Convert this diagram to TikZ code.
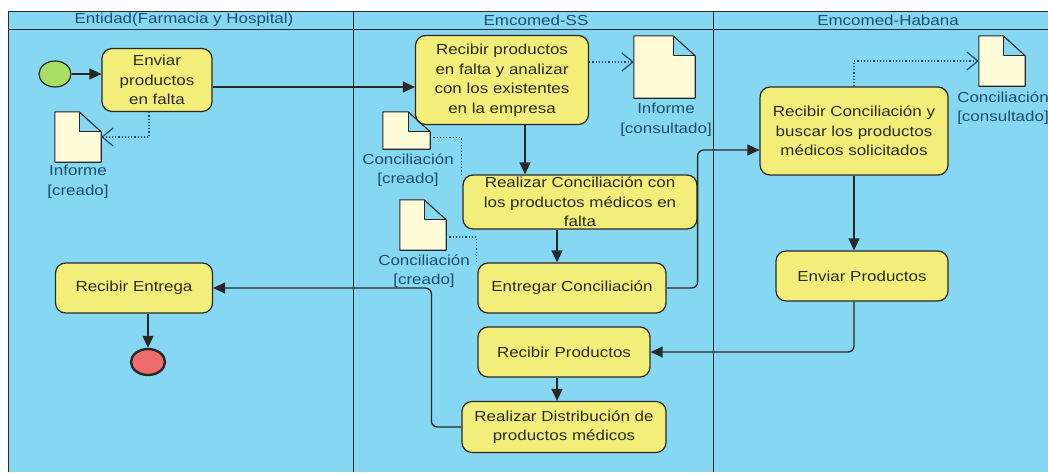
\documentclass[tikz,border=0pt]{standalone}
\usepackage{fontspec}
\setmainfont{Liberation Sans}[FakeStretch=1.17]
\usetikzlibrary{arrows.meta,shapes.geometric}

\definecolor{lane}{RGB}{134,216,242}
\definecolor{actfill}{RGB}{243,238,122}
\definecolor{paper}{RGB}{255,251,216}
\definecolor{linec}{RGB}{40,40,40}
\definecolor{textc}{RGB}{45,45,35}
\definecolor{labelc}{RGB}{30,78,110}
\definecolor{startc}{RGB}{168,222,100}
\definecolor{endc}{RGB}{238,108,110}

\newcommand{\docsheet}[1]{%
    \fill[paper] (#1.north west) -- ([xshift=-22pt]#1.north east) -- ([xshift=-22pt,yshift=-20pt]#1.north east)
        -- ([yshift=-20pt]#1.north east) -- (#1.south east) -- (#1.south west) -- cycle;
    \draw[docline] (#1.north west) -- ([xshift=-22pt]#1.north east) -- ([yshift=-20pt]#1.north east)
        -- (#1.south east) -- (#1.south west) -- cycle;
    \draw[docline] ([xshift=-22pt]#1.north east) |- ([yshift=-20pt]#1.north east);
}

\begin{document}
\begin{tikzpicture}[x=1pt, y=-1pt,
        font=\fontsize{14.5}{19.5}\selectfont,
        laneline/.style={draw=linec, line width=0.9pt},
        act/.style={draw=linec, fill=actfill, line width=1.2pt, rounded corners=10pt,
            align=center, text=textc, inner sep=2pt},
        doc/.style={inner sep=0pt},
        docline/.style={draw=linec, line width=1.1pt, line join=round},
        doclabel/.style={align=center, text=labelc, inner sep=0pt},
        flow/.style={draw=linec, line width=1.3pt, rounded corners=6pt, -{Triangle[length=12pt,width=11pt]}},
        dep/.style={draw=labelc, line width=1.2pt, dotted, -{Straight Barb[length=11pt,width=18pt]}},
        link/.style={draw=labelc, line width=1.2pt, dotted}]
                \useasboundingbox (0, 0) rectangle (1048, 472);
                \fill[white] (0, 0) rectangle (1048, 472);
                \fill[lane] (8, 11) rectangle (1048, 472);
                \draw[laneline] (8, 472) -- (8, 11) -- (1048, 11);
                \draw[laneline] (8, 29) -- (1048, 29);
                \draw[laneline] (353, 11) -- (353, 472);
                \draw[laneline] (713, 11) -- (713, 472);

                \node[text=labelc] (H1) at (184, 20) {Entidad(Farmacia y Hospital)};
                \node[text=labelc] (H2) at (536, 20) {Emcomed-SS};
                \node[text=labelc] (H3) at (888, 20) {Emcomed-Habana};

                \node[ellipse, draw=linec, fill=startc, line width=1.2pt, minimum width=32pt, minimum height=26pt, inner sep=0pt] (A0) at (55, 74) {};
                \node[act, minimum width=110pt, minimum height=63pt] (A1) at (157, 80) {Enviar\\productos\\en falta};
                \node[doc, minimum width=46pt, minimum height=50pt] (A2) at (78, 137) {};
                \node[doclabel] (A2t) at (78, 182) {Informe\\{}[creado]};
                \node[act, minimum width=157pt, minimum height=50pt] (A3) at (134, 288) {Recibir Entrega};
                \node[ellipse, draw=linec, fill=endc, line width=2.4pt, minimum width=34pt, minimum height=26pt, inner sep=0pt] (A4) at (148, 362) {};

                \node[act, minimum width=173pt, minimum height=89pt] (B1) at (502, 80) {Recibir productos\\en falta y analizar\\con los existentes\\en la empresa};
                \node[doc, minimum width=61pt, minimum height=62pt] (B2) at (664.5, 67) {};
                \node[doclabel] (B2t) at (666, 120) {Informe\\{}[consultado]};
                \node[doc, minimum width=47pt, minimum height=37pt] (B3) at (406.5, 130.5) {};
                \node[doclabel] (B3t) at (408, 170) {Conciliación\\{}[creado]};
                \node[act, minimum width=234pt, minimum height=54pt] (B4) at (580, 202) {Realizar Conciliación con\\los productos médicos en\\falta};
                \node[doc, minimum width=46pt, minimum height=50pt] (B5) at (423, 225) {};
                \node[doclabel] (B5t) at (424, 271) {Conciliación\\{}[creado]};
                \node[act, minimum width=188pt, minimum height=50pt] (B6) at (572, 288) {Entregar Conciliación};
                \node[act, minimum width=172pt, minimum height=50pt] (B7) at (564, 352) {Recibir Productos};
                \node[act, minimum width=204pt, minimum height=51pt] (B8) at (564, 427) {Realizar Distribución de\\productos médicos};

                \node[act, minimum width=188pt, minimum height=88pt] (C1) at (854, 131) {Recibir Conciliación y\\buscar los productos\\médicos solicitados};
                \node[doc, minimum width=46pt, minimum height=50pt] (C2) at (1002, 61) {};
                \node[doclabel] (C2t) at (1003, 108) {Conciliación\\{}[consultado]};
                \node[act, minimum width=172pt, minimum height=50pt] (C3) at (862, 276) {Enviar Productos};

                \docsheet{A2}
                \docsheet{B2}
                \docsheet{B3}
                \docsheet{B5}
                \docsheet{C2}

                \draw[flow] (A0.east) -- (A0.east -| A1.west);
                \draw[flow] ([yshift=-7pt]A1.east) -- ([yshift=-7pt]A1.east -| B1.west);
                \draw[flow] ([xshift=23pt]B1.south) -- ([xshift=23pt]B1.south |- B4.north);
                \draw[flow] ([xshift=-23pt]B4.south) -- ([xshift=-23pt]B4.south |- B6.north);
                \draw[flow] (B6.east) -- ++(31, 0) |- ([yshift=-19pt]C1.west);
                \draw[flow] (C1.south) -- (C1.south |- C3.north);
                \draw[flow] ([xshift=-8pt]C3.south) |- (B7.east);
                \draw[flow] ([xshift=-7pt]B7.south) -- ([xshift=-7pt]B7.south |- B8.north);
                \draw[flow] (B8.west) -- ++(-30, 0) |- (A3.east);
                \draw[flow] (A3.south -| A4.north) -- (A4.north);

                \draw[dep] ([xshift=-8pt]A1.south) |- (A2.east);
                \draw[dep] ([yshift=18pt]B1.east) -- ([yshift=18pt]B1.east -| B2.west);
                \draw[dep] (C1.north) |- (C2.west);
                \draw[link] ([yshift=-7pt]B3.east) -| ([xshift=-1pt]B4.north west);
                \draw[link] ([yshift=-12pt]B5.east) -| ([xshift=-1pt]B6.north west);
\end{tikzpicture}
\end{document}
